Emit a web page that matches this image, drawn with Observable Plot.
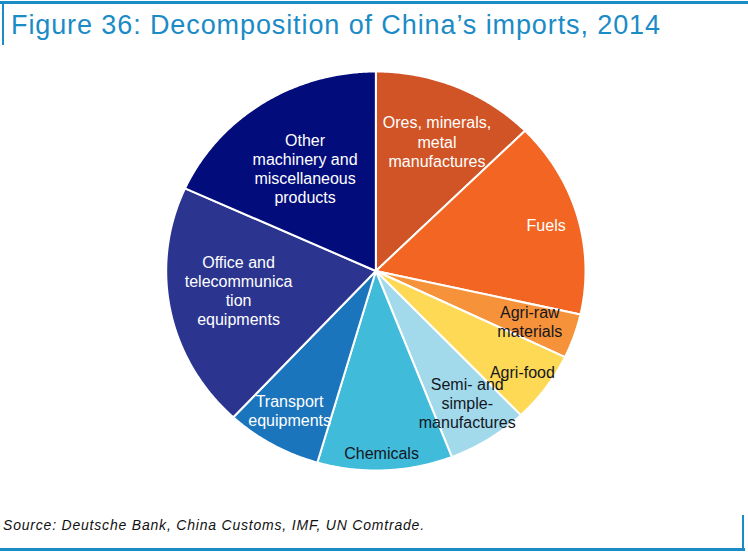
<!DOCTYPE html>
<html>
<head>
<meta charset="utf-8">
<script src="https://cdn.jsdelivr.net/npm/d3@7"></script>
<script src="https://cdn.jsdelivr.net/npm/@observablehq/plot@0.6"></script>
<style>
  html, body { margin: 0; padding: 0; background: white; }
  #wrap { position: relative; width: 748px; height: 554px; overflow: hidden; font-family: "Liberation Sans", Arial, sans-serif; }
  #chart { position: absolute; left: 0; top: 0; }
  .rule { position: absolute; background: #1b8bc6; z-index: 2; }
  #title { position: absolute; left: 11px; top: 12px; font-size: 27px; line-height: 27px; letter-spacing: 0.9px; color: #1b8bc6; white-space: nowrap; z-index: 2; }
  #source { position: absolute; left: 3px; top: 518px; font-size: 14px; line-height: 14px; letter-spacing: 0.8px; font-style: italic; color: #111; white-space: nowrap; z-index: 2; }
</style>
</head>
<body>
<div id="wrap">
  <div id="chart"></div>
  <div class="rule" style="left:0;top:1px;width:748px;height:3px"></div>
  <div class="rule" style="left:2px;top:1px;width:2px;height:44px"></div>
  <div class="rule" style="left:0;top:548px;width:745px;height:3px"></div>
  <div class="rule" style="left:742px;top:515px;width:2px;height:36px"></div>
  <div id="title">Figure 36: Decomposition of China’s imports, 2014</div>
  <div id="source">Source: Deutsche Bank, China Customs, IMF, UN Comtrade.</div>
</div>
<script>
// Data (clockwise from 12 o'clock), shares in %
const categories = [
  "Ores, minerals, metal manufactures", "Fuels", "Agri-raw materials", "Agri-food",
  "Semi- and simple-manufactures", "Chemicals", "Transport equipments",
  "Office and telecommunication equipments", "Other machinery and miscellaneous products"
];
const values = [12.6, 15.9, 3.6, 5.75, 6.25, 10.4, 7.4, 19.9, 18.2];
const labelText = [
  "Ores, minerals,\nmetal\nmanufactures", "Fuels", "Agri-raw\nmaterials", "Agri-food",
  "Semi- and\nsimple-\nmanufactures", "Chemicals", "Transport\nequipments",
  "Office and\ntelecommunica\ntion\nequipments", "Other\nmachinery and\nmiscellaneous\nproducts"
];
const colors = ["#D05426", "#F26522", "#F6923A", "#FDD955", "#A2DAEB", "#40BCDA", "#1B75BC", "#2B3590", "#020C7B"];
const darkLabel = [false, false, true, true, true, true, false, false, false];
// label layout (radius fraction, angle nudge in degrees)
const labelR = [0.712, 0.845, 0.777, 0.863, 0.79, 0.91, 0.81, 0.662, 0.614];
const labelTurn = [1.5, 0, 0, 0, -1, 0.8, 1, 3, -0.6];

const total = d3.sum(values);
const pts = [];
const labels = [];
let cum = 0;
values.forEach((v, i) => {
  const a0 = cum / total * 2 * Math.PI;
  cum += v;
  const a1 = cum / total * 2 * Math.PI;
  pts.push({cat: categories[i], x: 0, y: 0});
  const n = Math.max(2, Math.ceil((a1 - a0) / (Math.PI / 360)));
  for (let k = 0; k <= n; k++) {
    const t = a0 + (a1 - a0) * k / n;
    pts.push({cat: categories[i], x: Math.sin(t), y: Math.cos(t)});
  }
  const m = (a0 + a1) / 2 + labelTurn[i] * Math.PI / 180;
  labels.push({text: labelText[i], dark: darkLabel[i], x: labelR[i] * Math.sin(m), y: labelR[i] * Math.cos(m)});
});

const chart = Plot.plot({
  width: 748,
  height: 554,
  margin: 0,
  style: {background: "transparent"},
  x: {domain: [-1, 1], range: [165.7, 585], axis: null},
  y: {domain: [-1, 1], range: [470, 71], axis: null},
  color: {domain: categories, range: colors},
  marks: [
    Plot.line(pts, {x: "x", y: "y", z: "cat", fill: "cat", stroke: "white", strokeWidth: 2, curve: "linear-closed"}),
    Plot.text(labels.filter(d => !d.dark), {x: "x", y: "y", text: "text", fill: "white", fontSize: 16, lineHeight: 1.19, lineAnchor: "middle", fontFamily: "Liberation Sans, Arial, sans-serif"}),
    Plot.text(labels.filter(d => d.dark), {x: "x", y: "y", text: "text", fill: "#14161f", fontSize: 16, lineHeight: 1.19, lineAnchor: "middle", fontFamily: "Liberation Sans, Arial, sans-serif"})
  ]
});
document.getElementById("chart").appendChild(chart);
</script>
</body>
</html>
